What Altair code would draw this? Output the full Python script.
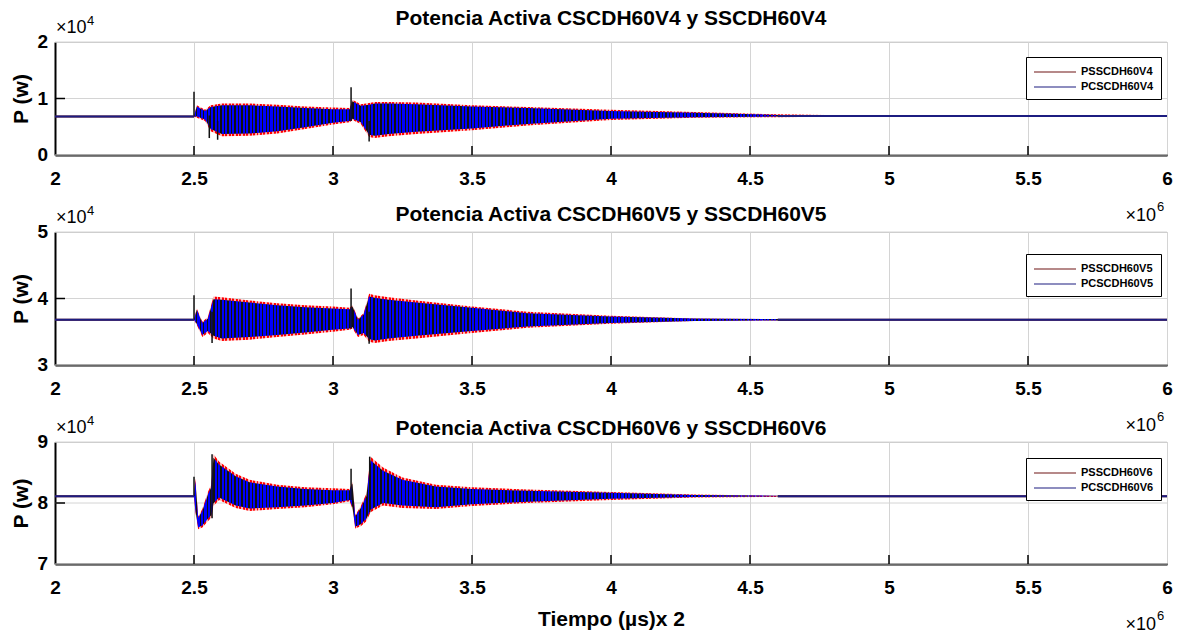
import altair as alt
import pandas as pd

# ---------------- data (power in units of 1e4 W, time in units of 1e6) ----------------
names = ["V4", "V5", "V6"]
titles = ["Potencia Activa CSCDH60V4 y SSCDH60V4",
          "Potencia Activa CSCDH60V5 y SSCDH60V5",
          "Potencia Activa CSCDH60V6 y SSCDH60V6"]
y_domains = [[0, 2], [3, 5], [7, 9]]
y_ticks = [[0, 1, 2], [3, 4, 5], [7, 8, 9]]
x_ticks = [2, 2.5, 3, 3.5, 4, 4.5, 5, 5.5, 6]

steady_before = [0.68, 3.68, 8.11]
steady_after = [0.69, 3.68, 8.11]
steady_start = [4.6, 4.6, 4.6]

# envelope key times / outer (red) and inner (blue/black) envelopes
t1 = [2.500, 2.510, 2.540, 2.560, 2.600, 2.700, 2.800, 2.900, 3.000, 3.060, 3.070,
      3.100, 3.130, 3.150, 3.200, 3.300, 3.500, 3.700, 4.000, 4.300, 4.600, 5.000]
red_hi1 = [0.68, 0.88, 0.80, 0.88, 0.91, 0.91, 0.89, 0.86, 0.84, 0.83, 0.98,
           0.90, 0.92, 0.94, 0.94, 0.93, 0.88, 0.85, 0.80, 0.76, 0.72, 0.69]
red_lo1 = [0.68, 0.66, 0.60, 0.42, 0.33, 0.34, 0.38, 0.46, 0.54, 0.58, 0.62,
           0.55, 0.32, 0.30, 0.33, 0.37, 0.44, 0.52, 0.62, 0.66, 0.67, 0.69]
blu_hi1 = [0.68, 0.86, 0.78, 0.85, 0.88, 0.88, 0.86, 0.83, 0.81, 0.81, 0.95,
           0.87, 0.89, 0.91, 0.91, 0.90, 0.86, 0.83, 0.78, 0.75, 0.71, 0.69]
blu_lo1 = [0.68, 0.68, 0.63, 0.46, 0.37, 0.38, 0.42, 0.49, 0.57, 0.60, 0.64,
           0.58, 0.36, 0.34, 0.37, 0.41, 0.47, 0.55, 0.64, 0.67, 0.68, 0.69]

t2 = [2.500, 2.510, 2.530, 2.550, 2.570, 2.600, 2.700, 2.800, 2.900, 3.000, 3.060, 3.070,
      3.090, 3.110, 3.130, 3.150, 3.200, 3.300, 3.500, 3.700, 4.000, 4.300, 4.600, 5.000]
red_hi2 = [3.68, 3.85, 3.65, 3.72, 4.03, 4.02, 3.97, 3.93, 3.90, 3.88, 3.86, 3.90,
           3.70, 3.78, 4.07, 4.05, 4.02, 3.97, 3.88, 3.80, 3.74, 3.70, 3.69, 3.68]
red_lo2 = [3.68, 3.60, 3.42, 3.48, 3.40, 3.36, 3.38, 3.42, 3.46, 3.50, 3.53, 3.55,
           3.42, 3.45, 3.35, 3.33, 3.36, 3.40, 3.48, 3.56, 3.62, 3.66, 3.67, 3.68]
blu_hi2 = [3.68, 3.83, 3.63, 3.70, 3.99, 3.98, 3.94, 3.90, 3.87, 3.85, 3.84, 3.88,
           3.68, 3.76, 4.03, 4.01, 3.98, 3.94, 3.86, 3.78, 3.73, 3.70, 3.69, 3.68]
blu_lo2 = [3.68, 3.62, 3.45, 3.51, 3.44, 3.40, 3.42, 3.45, 3.49, 3.53, 3.55, 3.57,
           3.45, 3.48, 3.39, 3.37, 3.40, 3.44, 3.51, 3.58, 3.63, 3.66, 3.67, 3.68]

t3 = [2.500, 2.505, 2.515, 2.530, 2.550, 2.562, 2.570, 2.590, 2.650, 2.700, 2.800, 2.900,
      3.000, 3.060, 3.070, 3.080, 3.100, 3.120, 3.135, 3.180, 3.250, 3.370, 3.500, 3.700,
      4.000, 4.300, 4.600, 5.000]
red_hi3 = [8.11, 8.40, 7.78, 7.90, 8.18, 8.30, 8.80, 8.68, 8.48, 8.38, 8.30, 8.26,
           8.24, 8.23, 8.35, 7.80, 7.95, 8.15, 8.76, 8.58, 8.42, 8.30, 8.26, 8.22,
           8.18, 8.14, 8.12, 8.11]
red_lo3 = [8.11, 7.85, 7.57, 7.60, 7.70, 7.76, 7.95, 8.05, 7.92, 7.87, 7.90, 7.93,
           7.98, 8.03, 7.90, 7.58, 7.62, 7.70, 7.85, 7.96, 7.92, 7.90, 7.95, 8.00,
           8.05, 8.09, 8.10, 8.11]
blu_hi3 = [8.11, 8.36, 7.76, 7.87, 8.14, 8.26, 8.74, 8.63, 8.44, 8.34, 8.27, 8.23,
           8.21, 8.21, 8.32, 7.78, 7.92, 8.11, 8.70, 8.53, 8.38, 8.27, 8.23, 8.20,
           8.17, 8.13, 8.12, 8.11]
blu_lo3 = [8.11, 7.88, 7.60, 7.63, 7.74, 7.80, 7.99, 8.09, 7.96, 7.91, 7.93, 7.96,
           8.00, 8.05, 7.93, 7.61, 7.65, 7.74, 7.89, 8.00, 7.96, 7.93, 7.98, 8.02,
           8.07, 8.10, 8.11, 8.11]

# transient spikes (time, low, high)
spk_t1 = [2.500, 2.555, 2.585, 3.065, 3.130]
spk_lo1 = [0.68, 0.30, 0.27, 0.60, 0.24]
spk_hi1 = [1.12, 0.70, 0.60, 1.20, 0.60]
spk_t2 = [2.500, 2.565, 3.065, 3.130]
spk_lo2 = [3.68, 3.33, 3.55, 3.32]
spk_hi2 = [4.05, 3.80, 4.15, 3.80]
spk_t3 = [2.500, 2.565, 3.065, 3.132]
spk_lo3 = [8.11, 7.75, 8.05, 7.85]
spk_hi3 = [8.43, 8.80, 8.56, 8.76]

env = [(t1, red_hi1, red_lo1, blu_hi1, blu_lo1),
       (t2, red_hi2, red_lo2, blu_hi2, blu_lo2),
       (t3, red_hi3, red_lo3, blu_hi3, blu_lo3)]
spikes = [(spk_t1, spk_lo1, spk_hi1), (spk_t2, spk_lo2, spk_hi2), (spk_t3, spk_lo3, spk_hi3)]

# ---------------- styling ----------------
FONT = "Liberation Sans"
W = 1112
heights = [113, 133, 122]
title_base = [-17, -11, -7]
legend_y = [15, 22, 16]
RED = "#ff0000"
BLUE = "#0000ff"
BLACK = "#111111"
GRID = "#d4d4d4"


def stripe_gradient(c1, c2, frac, n=200):
    stops = []
    for k in range(n):
        a, b, c = k / n, (k + frac) / n, (k + 1) / n
        stops += [alt.GradientStop(color=c1, offset=a), alt.GradientStop(color=c1, offset=b),
                  alt.GradientStop(color=c2, offset=b), alt.GradientStop(color=c2, offset=c)]
    return alt.Gradient(gradient="linear", stops=stops, x1=0, x2=1, y1=0, y2=0)


stripes = stripe_gradient(BLUE, BLACK, 0.6)
red_stripes = stripe_gradient(RED, "#ffb0b0", 0.55)


def panel(i):
    h = heights[i]
    xs = alt.Scale(domain=[2, 6], nice=False, zero=False)
    ys = alt.Scale(domain=y_domains[i], nice=False, zero=False)
    xax = alt.Axis(values=x_ticks, format="~g", grid=True, ticks=False, labelOverlap=False,
                   labelFlush=False, title="Tiempo (µs)x 2" if i == 2 else None,
                   labelPadding=14, titlePadding=11)
    yax = alt.Axis(values=y_ticks[i], grid=False, ticks=False, labels=False,
                   title="P (w)", titlePadding=24)
    X = alt.X("t:Q", scale=xs, axis=xax)
    t, rh, rl, bh, bl = env[i]
    df_env = pd.DataFrame({"t": t, "rh": rh, "rl": rl, "bh": bh, "bl": bl})

    df_yt = pd.DataFrame({"v": y_ticks[i]})
    ygrid = alt.Chart(df_yt).mark_rule(color=GRID, strokeWidth=1).encode(
        y=alt.Y("v:Q", scale=ys, axis=yax), x=alt.value(0), x2=alt.value(W))
    ylab = alt.Chart(df_yt).mark_text(font=FONT, fontSize=19, fontWeight="bold", align="right",
                                      baseline="middle", color="black").encode(
        y=alt.Y("v:Q", scale=ys, axis=yax), x=alt.value(-7), text=alt.Text("v:Q", format="d"))

    red = alt.Chart(df_env).mark_area(color=red_stripes).encode(
        x=X, y=alt.Y("rh:Q", scale=ys, axis=yax), y2="rl:Q")
    inner = alt.Chart(df_env).mark_area(color=stripes).encode(
        x=X, y=alt.Y("bh:Q", scale=ys, axis=yax), y2="bl:Q")
    st, slo, shi = spikes[i]
    df_sp = pd.DataFrame({"t": st, "lo": slo, "hi": shi})
    spk = alt.Chart(df_sp).mark_rule(color=BLACK, strokeWidth=1.5).encode(
        x=X, y=alt.Y("lo:Q", scale=ys, axis=yax), y2="hi:Q")

    pss, pc = "PSSCDH60" + names[i], "PCSCDH60" + names[i]
    rows = []
    for s in (pss, pc):
        rows += [{"s": s, "seg": "a", "t": 2.0, "v": steady_before[i]},
                 {"s": s, "seg": "a", "t": 2.5, "v": steady_before[i]},
                 {"s": s, "seg": "b", "t": steady_start[i], "v": steady_after[i]},
                 {"s": s, "seg": "b", "t": 6.0, "v": steady_after[i]}]
    df_ln = pd.DataFrame(rows)
    line = alt.Chart(df_ln).mark_line(strokeWidth=2).encode(
        x=X, y=alt.Y("v:Q", scale=ys, axis=yax), detail="seg:N",
        color=alt.Color("s:N", scale=alt.Scale(domain=[pss, pc], range=["#6e1414", "#1c1c80"]),
                        legend=alt.Legend(orient="none", legendX=971, legendY=legend_y[i],
                                          title=None, symbolType="M-1,0H5", symbolSize=196,
                                          symbolStrokeWidth=1.2, labelOffset=32, labelFont=FONT,
                                          labelFontWeight="bold", labelFontSize=11,
                                          labelColor="black", strokeColor="black",
                                          fillColor="white", padding=7, rowPadding=2,
                                          cornerRadius=0)),
        order=alt.Order("s:N"))

    xt = alt.Chart(pd.DataFrame({"t": x_ticks[1:-1]})).mark_rule(
        color="black", strokeWidth=1.5).encode(x=X, y=alt.value(h), y2=alt.value(h - 9))
    yt = alt.Chart(pd.DataFrame({"v": y_ticks[i][1:-1]})).mark_rule(
        color="black", strokeWidth=1.5).encode(
        y=alt.Y("v:Q", scale=ys, axis=yax), x=alt.value(0), x2=alt.value(10))

    txt = pd.DataFrame({"a": ["×10"]})
    e4 = pd.DataFrame({"a": ["4"]})
    e6 = pd.DataFrame({"a": ["6"]})
    ttl = pd.DataFrame({"a": [titles[i]]})
    m4 = alt.Chart(txt).mark_text(font=FONT, fontSize=18, align="left", baseline="alphabetic",
                                  color="black").encode(x=alt.value(1), y=alt.value(-9), text="a:N")
    s4 = alt.Chart(e4).mark_text(font=FONT, fontSize=13, align="left", baseline="alphabetic",
                                 color="black").encode(x=alt.value(32), y=alt.value(-17), text="a:N")
    m6 = alt.Chart(txt).mark_text(font=FONT, fontSize=18, align="right", baseline="alphabetic",
                                  color="black").encode(x=alt.value(W - 11), y=alt.value(h + 66), text="a:N")
    s6 = alt.Chart(e6).mark_text(font=FONT, fontSize=13, align="left", baseline="alphabetic",
                                 color="black").encode(x=alt.value(W - 10), y=alt.value(h + 56), text="a:N")
    tt = alt.Chart(ttl).mark_text(font=FONT, fontSize=21, fontWeight="bold", align="center",
                                  baseline="alphabetic", color="black").encode(
        x=alt.value(W / 2), y=alt.value(title_base[i]), text="a:N")

    return alt.layer(ygrid, red, inner, spk, line, xt, yt, ylab, m4, s4, m6, s6, tt).properties(
        width=W, height=h)


chart = alt.vconcat(panel(0), panel(1), panel(2), spacing=77, bounds="flush").resolve_scale(
    color="independent", x="independent", y="independent").properties(
    padding={"left": 9, "top": 7, "right": 10, "bottom": 2}
).configure_view(stroke="#c8c8c8", strokeWidth=1).configure_axis(
    domainColor="black", domainWidth=2, gridColor=GRID, gridWidth=1,
    labelFont=FONT, labelFontSize=19, labelFontWeight="bold", labelColor="black",
    titleFont=FONT, titleFontSize=21, titleFontWeight="bold", titleColor="black"
)

chart.save("out.html", embed_options={"renderer": "svg", "actions": False})
